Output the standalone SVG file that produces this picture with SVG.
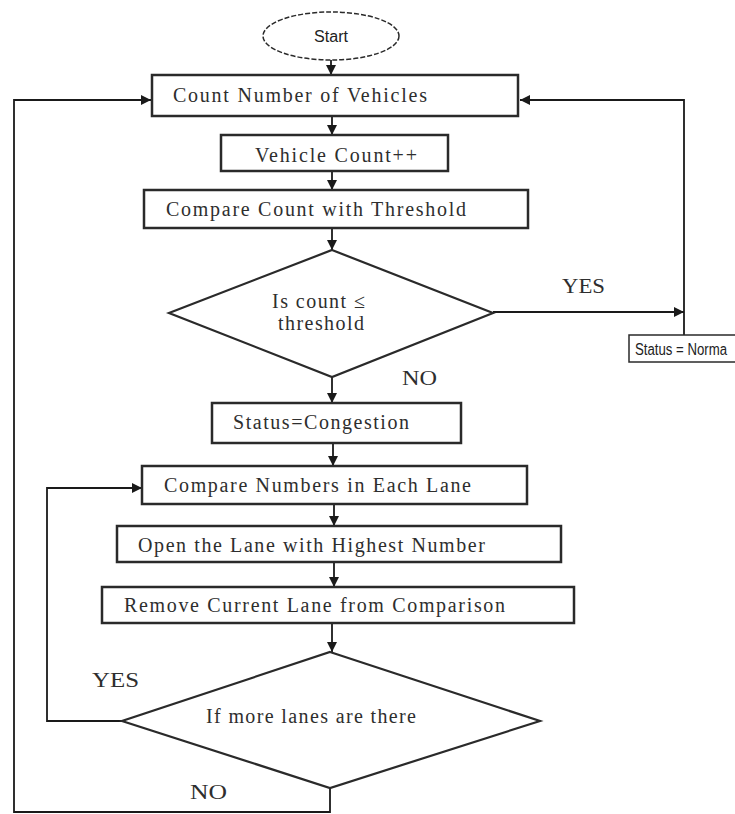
<svg xmlns="http://www.w3.org/2000/svg" width="735" height="814" viewBox="0 0 735 814">
<defs>
<marker id="ah" viewBox="0 0 10 10" refX="10" refY="5" markerWidth="10" markerHeight="10" markerUnits="userSpaceOnUse" orient="auto">
<path d="M0,0 L10,5 L0,10 z" fill="#1a1a1a"/>
</marker>
<style>
.box{fill:#fff;stroke:#2a2a2a;stroke-width:2.5}
.dia{fill:#fff;stroke:#2a2a2a;stroke-width:2.2}
.ln{fill:none;stroke:#1a1a1a;stroke-width:1.8}
.t{font-family:"Liberation Serif","Times New Roman",serif;font-size:20px;fill:#2e2e2e}
.s{font-family:"Liberation Sans",Arial,sans-serif;font-size:16px;fill:#222}
</style>
</defs>
<rect width="735" height="814" fill="#fff"/>
<g id="connectors">
<line class="ln" x1="331" y1="60" x2="331" y2="75" marker-end="url(#ah)"/>
<line class="ln" x1="332" y1="116" x2="332" y2="135" marker-end="url(#ah)"/>
<line class="ln" x1="332" y1="171" x2="332" y2="190" marker-end="url(#ah)"/>
<line class="ln" x1="332" y1="228" x2="332" y2="250" marker-end="url(#ah)"/>
<line class="ln" x1="493" y1="312" x2="684" y2="312" marker-end="url(#ah)"/>
<polyline class="ln" points="684,335 684,100 520,100" marker-end="url(#ah)"/>
<polyline class="ln" points="330,788 330,812 14,812 14,100 151,100" marker-end="url(#ah)"/>
<line class="ln" x1="332" y1="377" x2="332" y2="403" marker-end="url(#ah)"/>
<line class="ln" x1="333" y1="443" x2="333" y2="466" marker-end="url(#ah)"/>
<line class="ln" x1="334" y1="504" x2="334" y2="526" marker-end="url(#ah)"/>
<line class="ln" x1="334" y1="562" x2="334" y2="587" marker-end="url(#ah)"/>
<line class="ln" x1="332" y1="623" x2="332" y2="652" marker-end="url(#ah)"/>
<polyline class="ln" points="122,721 47,721 47,488 142,488" marker-end="url(#ah)"/>
<text class="t" x="562" y="293" textLength="43" lengthAdjust="spacingAndGlyphs">YES</text>
<text class="t" x="402" y="385" textLength="35" lengthAdjust="spacingAndGlyphs">NO</text>
<text class="t" x="92" y="687" textLength="47" lengthAdjust="spacingAndGlyphs">YES</text>
<text class="t" x="190" y="799" textLength="37" lengthAdjust="spacingAndGlyphs">NO</text>
</g>
<g id="start">
<ellipse cx="331" cy="36" rx="68" ry="24" fill="#fff" stroke="#2a2a2a" stroke-width="1.5" stroke-dasharray="5,2"/>
<text class="s" x="331" y="42" text-anchor="middle" textLength="34" lengthAdjust="spacingAndGlyphs">Start</text>
</g>
<g id="count">
<rect class="box" x="152" y="75" width="366" height="41"/>
<text class="t" x="173" y="102" textLength="254" lengthAdjust="spacing">Count Number of Vehicles</text>
</g>
<g id="increment">
<rect class="box" x="221" y="135" width="227" height="36"/>
<text class="t" x="255" y="162" textLength="162" lengthAdjust="spacing">Vehicle Count++</text>
</g>
<g id="compare">
<rect class="box" x="144" y="190" width="384" height="38"/>
<text class="t" x="166" y="216" textLength="300" lengthAdjust="spacing">Compare Count with Threshold</text>
</g>
<g id="decision1">
<polygon class="dia" points="332,250 493,313 332,377 169,313"/>
<text class="t" x="272" y="308" textLength="93" lengthAdjust="spacing">Is count ≤</text>
<text class="t" x="278" y="330" textLength="86" lengthAdjust="spacing">threshold</text>
</g>
<g id="normal">
<rect x="629" y="335" width="110" height="27" fill="#fff" stroke="#2a2a2a" stroke-width="1.5"/>
<text class="s" x="635" y="355" font-size="15" textLength="92" lengthAdjust="spacingAndGlyphs">Status = Norma</text>
</g>
<g id="congestion">
<rect class="box" x="212" y="403" width="249" height="40"/>
<text class="t" x="233" y="429" textLength="176" lengthAdjust="spacing">Status=Congestion</text>
</g>
<g id="lanes">
<rect class="box" x="142" y="466" width="385" height="38"/>
<text class="t" x="164" y="492" textLength="307" lengthAdjust="spacing">Compare Numbers in Each Lane</text>
</g>
<g id="open">
<rect class="box" x="117" y="526" width="444" height="36"/>
<text class="t" x="138" y="552" textLength="347" lengthAdjust="spacing">Open the Lane with Highest Number</text>
</g>
<g id="remove">
<rect class="box" x="102" y="587" width="472" height="36"/>
<text class="t" x="124" y="612" textLength="381" lengthAdjust="spacing">Remove Current Lane from Comparison</text>
</g>
<g id="decision2">
<polygon class="dia" points="330,652 540,721 330,788 122,721"/>
<text class="t" x="206" y="723" textLength="210" lengthAdjust="spacing">If more lanes are there</text>
</g>
</svg>
